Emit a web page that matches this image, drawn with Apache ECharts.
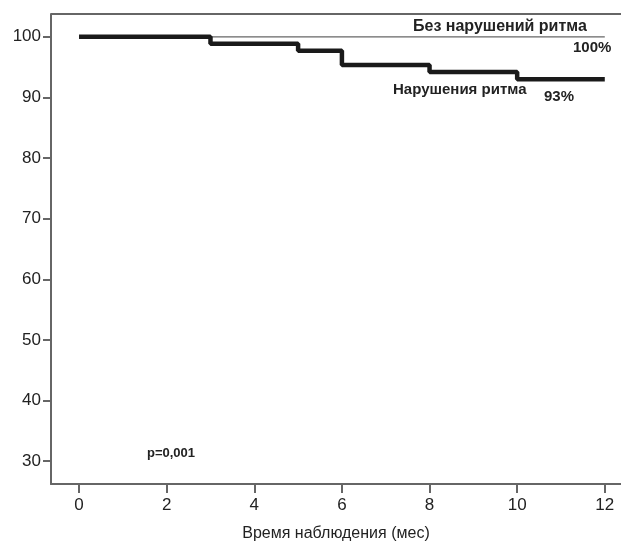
<!DOCTYPE html>
<html><head><meta charset="utf-8">
<script src="https://cdn.jsdelivr.net/npm/echarts@6/dist/echarts.min.js"></script>
<style>html,body{margin:0;padding:0;background:#fff}#c{width:621px;height:547px}</style>
</head><body><div id="c"></div>
<script>
const arrhythmiaTimes = [0, 3, 5, 6, 8, 10, 12];
const arrhythmiaValues = [100, 98.85, 97.7, 95.35, 94.2, 93.0, 93.0];
const noArrhythmiaTimes = [0, 12];
const noArrhythmiaValues = [100, 100];
const xTicks = [0, 2, 4, 6, 8, 10, 12];
const yTicks = [30, 40, 50, 60, 70, 80, 90, 100];
const labels = {
  noArr: 'Без нарушений ритма', noArrPct: '100%',
  arr: 'Нарушения ритма', arrPct: '93%',
  p: 'p=0,001', xTitle: 'Время наблюдения (мес)'
};

const chart = echarts.init(document.getElementById('c'));
const font = 'Liberation Sans, Arial, sans-serif';
const axisColor = '#666';
chart.setOption({
  animation: false,
  grid: { left: 51, right: 0, top: 14, bottom: 59, show: false },
  xAxis: {
    type: 'value', min: -0.64, max: 12.37,
    axisLine: { show: true, onZero: false, lineStyle: { color: axisColor, width: 2 } },
    axisTick: { show: true, length: 9, customValues: xTicks, lineStyle: { color: axisColor, width: 2 } },
    axisLabel: { customValues: xTicks, color: '#222', fontSize: 17, fontFamily: font, margin: 13 },
    splitLine: { show: false },
    name: labels.xTitle, nameLocation: 'middle', nameGap: 42,
    nameTextStyle: { color: '#222', fontSize: 16, fontFamily: font }
  },
  yAxis: {
    type: 'value', min: 26.24, max: 103.76,
    axisLine: { show: true, onZero: false, lineStyle: { color: axisColor, width: 2 } },
    axisTick: { show: true, length: 8, customValues: yTicks, lineStyle: { color: axisColor, width: 2 } },
    axisLabel: { customValues: yTicks, color: '#222', fontSize: 17, fontFamily: font, margin: 10 },
    splitLine: { show: false }
  },
  series: [
    {
      type: 'line', step: 'end', symbol: 'none', silent: true,
      data: noArrhythmiaTimes.map((t, i) => [t, noArrhythmiaValues[i]]),
      lineStyle: { color: '#666', width: 1.2 }
    },
    {
      type: 'line', step: 'end', symbol: 'none', silent: true,
      data: arrhythmiaTimes.map((t, i) => [t, arrhythmiaValues[i]]),
      lineStyle: { color: '#1a1a1a', width: 4.5 }
    }
  ],
  graphic: [
    { type: 'line', shape: { x1: 51, y1: 14, x2: 621, y2: 14 }, style: { stroke: axisColor, lineWidth: 2 } },
    { type: 'text', left: 413, top: 19, style: { text: labels.noArr, fill: '#222', font: 'bold 16px ' + font } },
    { type: 'text', left: 573, top: 40, style: { text: labels.noArrPct, fill: '#222', font: 'bold 15px ' + font } },
    { type: 'text', left: 393, top: 82, style: { text: labels.arr, fill: '#222', font: 'bold 15px ' + font } },
    { type: 'text', left: 544, top: 89, style: { text: labels.arrPct, fill: '#222', font: 'bold 15px ' + font } },
    { type: 'text', left: 147, top: 447, style: { text: labels.p, fill: '#222', font: 'bold 13px ' + font } }
  ]
});
</script></body></html>
